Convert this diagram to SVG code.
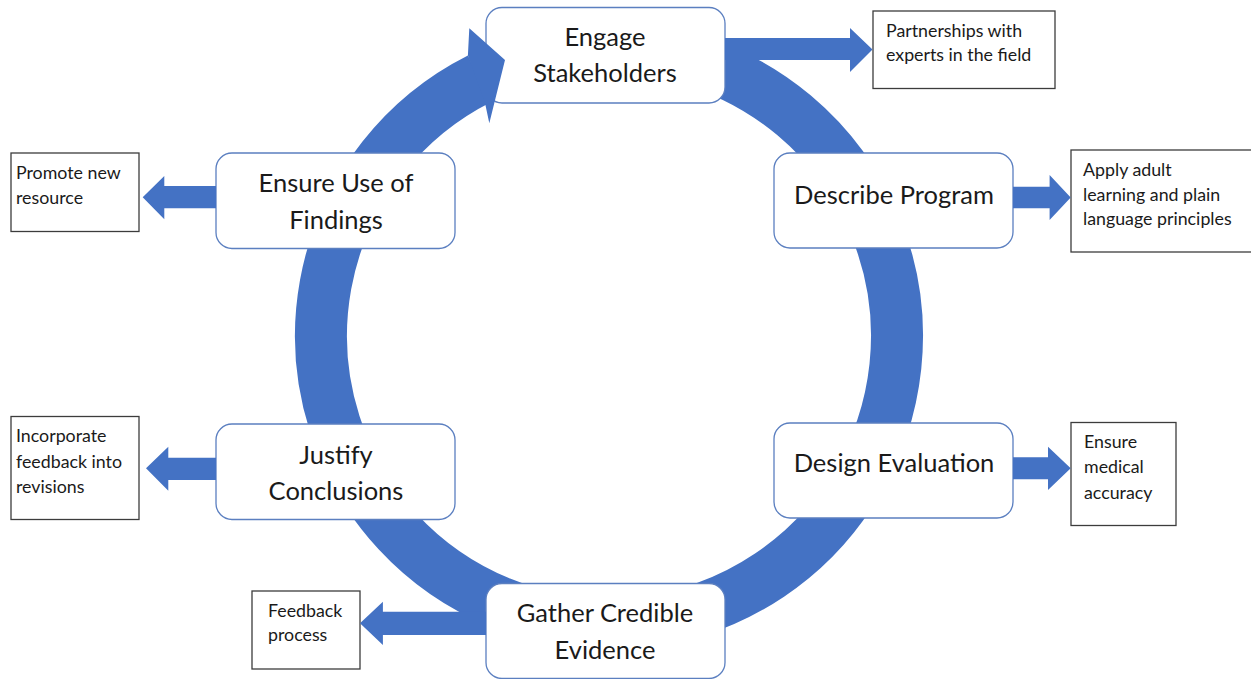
<svg xmlns="http://www.w3.org/2000/svg" width="1251" height="679" viewBox="0 0 1251 679">
  <style>
    .ring { fill: none; stroke: #4472C4; stroke-width: 52; }
    .arrow { fill: #4472C4; stroke: none; }
    .step rect { fill: #FFFFFF; stroke: #5B7FC0; stroke-width: 1.3; }
    .note rect { fill: #FFFFFF; stroke: #3C3C3C; stroke-width: 1.3; }
    .big { font-family: "Lato", "Open Sans", "Liberation Sans", sans-serif; font-size: 25.5px; fill: #1A1A1A; text-anchor: middle; }
    .small { font-family: "Lato", "Open Sans", "Liberation Sans", sans-serif; font-size: 17.8px; fill: #1A1A1A; }
  </style>
  <rect x="0" y="0" width="1251" height="679" fill="#FFFFFF"/>

  <g id="cycle-ring">
    <path class="ring" d="M 683.5 57.8 A 288 288 0 1 1 479.6 78.7"/>
  </g>

  <g id="node-engage" class="step">
    <rect x="486" y="7.5" width="239" height="95.5" rx="16"/>
    <text class="big" x="605" y="46">Engage</text>
    <text class="big" x="605" y="82">Stakeholders</text>
  </g>
  <g id="node-describe" class="step">
    <rect x="774" y="153" width="239" height="95" rx="16"/>
    <text class="big" x="894" y="203.5">Describe Program</text>
  </g>
  <g id="node-design" class="step">
    <rect x="774" y="423" width="239" height="95" rx="16"/>
    <text class="big" x="894" y="472">Design Evaluation</text>
  </g>
  <g id="node-gather" class="step">
    <rect x="486" y="583.5" width="239" height="95" rx="16"/>
    <text class="big" x="605" y="622">Gather Credible</text>
    <text class="big" x="605" y="658.5">Evidence</text>
  </g>
  <g id="node-justify" class="step">
    <rect x="216" y="424" width="239" height="95.5" rx="16"/>
    <text class="big" x="336" y="463.5">Justify</text>
    <text class="big" x="336" y="499.5">Conclusions</text>
  </g>
  <g id="node-ensure-use" class="step">
    <rect x="216" y="153" width="239" height="95.5" rx="16"/>
    <text class="big" x="336" y="191.5">Ensure Use of</text>
    <text class="big" x="336" y="228.5">Findings</text>
  </g>

  <g id="note-partnerships" class="note">
    <rect x="873" y="11" width="182" height="77.5"/>
    <text class="small" x="886" y="37">Partnerships with</text>
    <text class="small" x="886" y="61">experts in the field</text>
  </g>
  <g id="note-apply" class="note">
    <rect x="1071" y="150" width="182" height="102"/>
    <text class="small" x="1083" y="176">Apply adult</text>
    <text class="small" x="1083" y="201">learning and plain</text>
    <text class="small" x="1083" y="225">language principles</text>
  </g>
  <g id="note-medical" class="note">
    <rect x="1071" y="422.5" width="105" height="103"/>
    <text class="small" x="1084" y="448">Ensure</text>
    <text class="small" x="1084" y="473">medical</text>
    <text class="small" x="1084" y="499">accuracy</text>
  </g>
  <g id="note-feedback" class="note">
    <rect x="252" y="591" width="108" height="78"/>
    <text class="small" x="268" y="617">Feedback</text>
    <text class="small" x="268" y="641">process</text>
  </g>
  <g id="note-incorporate" class="note">
    <rect x="11" y="416.5" width="128" height="103"/>
    <text class="small" x="16" y="442">Incorporate</text>
    <text class="small" x="16" y="468">feedback into</text>
    <text class="small" x="16" y="493">revisions</text>
  </g>
  <g id="note-promote" class="note">
    <rect x="11" y="153" width="128" height="78.5"/>
    <text class="small" x="16" y="179">Promote new</text>
    <text class="small" x="16" y="204">resource</text>
  </g>

  <g id="connectors">
    <polygon class="arrow" points="469.3,28.3 505,60 489.3,123.3 484.8,101.9 467.9,55.5"/>
    <polygon class="arrow" points="725,38 850,38 850,28 872.5,49.5 850,72 850,60 725,60"/>
    <polygon class="arrow" points="1013,186.7 1049.6,186.7 1049.6,175 1070.7,197.5 1049.6,220 1049.6,208.3 1013,208.3"/>
    <polygon class="arrow" points="1013,457.3 1048,457.3 1048,446.7 1070.7,468.3 1048,490 1048,479.3 1013,479.3"/>
    <polygon class="arrow" points="216,186 164.3,186 164.3,176 142.7,197.3 164.3,219.3 164.3,208.3 216,208.3"/>
    <polygon class="arrow" points="216,457.7 168.3,457.7 168.3,446.7 146,468.3 168.3,490.7 168.3,480 216,480"/>
    <polygon class="arrow" points="486,611.7 382.9,611.7 382.9,601.7 360,623.3 382.9,645 382.9,635 486,635"/>
  </g>
</svg>
